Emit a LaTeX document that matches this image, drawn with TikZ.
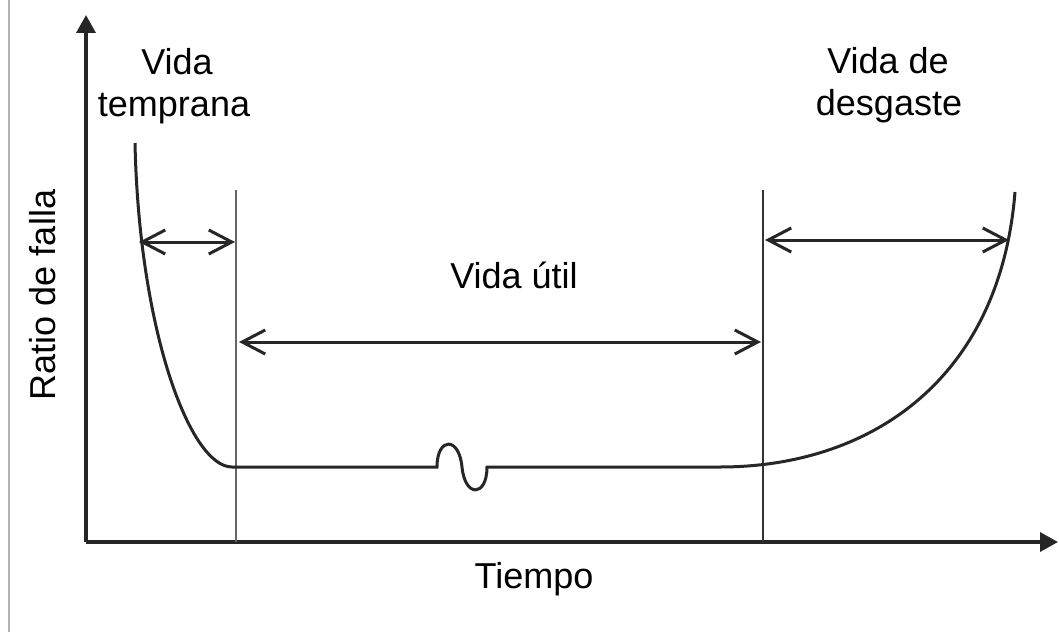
\documentclass[tikz,border=0pt]{standalone}
\usepackage{fontspec}
\setmainfont{Liberation Sans}
\usetikzlibrary{arrows.meta}
\begin{document}
\begin{tikzpicture}[x=0.02cm,y=-0.02cm,
  lbl/.style={inner sep=0pt,anchor=base,font=\fontsize{20.5pt}{24pt}\selectfont},
  axisline/.style={line width=0.07cm,draw=black!85,-{Triangle[length=0.36cm,width=0.38cm]}},
  curveline/.style={line width=0.06cm,draw=black!85},
  divline/.style={line width=0.05cm},
  dimarrow/.style={line width=0.06cm,draw=black!85,{Straight Barb[length=0.46cm,width=0.48cm,line width=0.06cm]}-{Straight Barb[length=0.46cm,width=0.48cm,line width=0.06cm]}}]
\useasboundingbox (0,0) rectangle (1059,632);
\fill[white] (0,0) rectangle (1059,632);
% left border line
\coordinate (bt) at (9,0);
\coordinate (bb) at (9,632);
\draw[line width=0.03cm,black!30] (bt) -- (bb);
% axes
\coordinate (O) at (86,542);
\coordinate (ytip) at (86,15);
\coordinate (xtip) at (1058,542);
\draw[axisline] (O) -- (ytip);
\draw[axisline] (O) -- (xtip);
% divider lines
\coordinate (d1t) at (236,190);
\coordinate (d1b) at (236,542);
\coordinate (d2t) at (763,190);
\coordinate (d2b) at (763,542);
\draw[divline,black!60] (d1t) -- (d1b);
\draw[divline,black!80] (d2t) -- (d2b);
% bathtub curve
\coordinate (c0) at (135,143);
\coordinate (c1) at (232,467);
\coordinate (w0) at (437,467);
\coordinate (wm) at (462,467);
\coordinate (w1) at (487,467);
\coordinate (c2) at (720,467);
\coordinate (c3) at (1015,192);
\draw[curveline] (c0) .. controls (139,330) and (190,467) .. (c1)
  -- (w0) .. controls (437,437) and (459,436) .. (wm)
  .. controls (465,498) and (487,497) .. (w1)
  -- (c2) .. controls (870,467) and (1000,380) .. (c3);
% dimension arrows
\coordinate (a1l) at (139,242);
\coordinate (a1r) at (235,242);
\coordinate (a2l) at (239,342);
\coordinate (a2r) at (761,342);
\coordinate (a3l) at (765,240);
\coordinate (a3r) at (1009,240);
\draw[dimarrow] (a1l) -- (a1r);
\draw[dimarrow] (a2l) -- (a2r);
\draw[dimarrow] (a3l) -- (a3r);
% labels
\node[lbl] (early1) at (177,74) {Vida};
\node[lbl] (early2) at (174,116) {temprana};
\node[lbl] (wear1) at (888,73) {Vida de};
\node[lbl] (wear2) at (889,115) {desgaste};
\node[lbl] (useful) at (514,288) {Vida útil};
\node[lbl] (xlab) at (534,588) {Tiempo};
\node[lbl,rotate=90] (ylab) at (55,295) {Ratio de falla};
\end{tikzpicture}
\end{document}
